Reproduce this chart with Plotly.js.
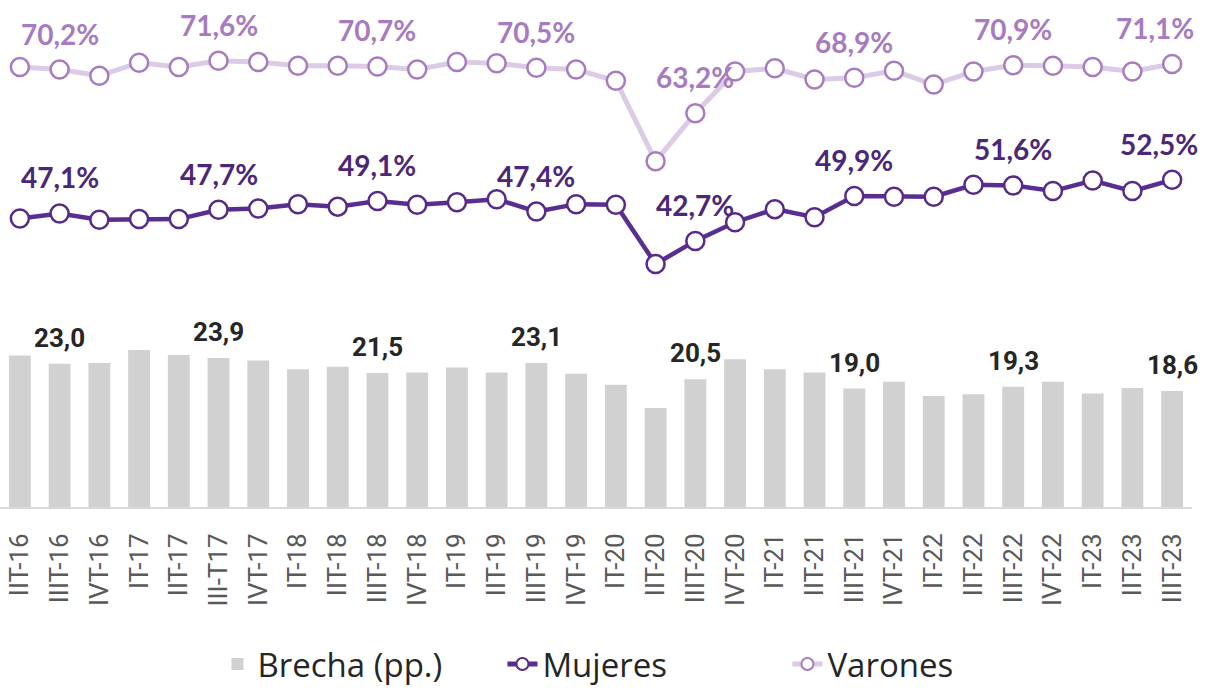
<!DOCTYPE html>
<html>
<head>
<meta charset="utf-8">
<script src="https://cdn.plot.ly/plotly-3.0.1.min.js"></script>
<style>
  html, body { margin: 0; padding: 0; background: #ffffff; }
  #chart { width: 1210px; height: 692px; }
</style>
</head>
<body>
<div id="chart"></div>
<script>
const categories = ["IIT-16","IIIT-16","IVT-16","IT-17","IIT-17","III-T17","IVT-17","IT-18","IIT-18","IIIT-18","IVT-18","IT-19","IIT-19","IIIT-19","IVT-19","IT-20","IIT-20","IIIT-20","IVT-20","IT-21","IIT-21","IIIT-21","IVT-21","IT-22","IIT-22","IIIT-22","IVT-22","IT-23","IIT-23","IIIT-23"];
const varones = [70.6,70.2,69.2,71.3,70.6,71.6,71.4,70.8,70.8,70.7,70.2,71.4,71.2,70.5,70.2,68.4,55.5,63.2,69.9,70.4,68.6,68.9,70.0,67.8,69.9,70.9,70.8,70.6,69.9,71.1];
const mujeres = [46.3,47.1,46.1,46.2,46.2,47.7,47.9,48.6,48.2,49.1,48.5,48.9,49.4,47.4,48.6,48.5,39.0,42.7,45.7,47.8,46.5,49.9,49.8,49.8,51.7,51.6,50.7,52.4,50.7,52.5];
const brecha = [24.3,23.0,23.1,25.2,24.4,23.9,23.5,22.1,22.5,21.5,21.6,22.4,21.6,23.1,21.4,19.6,15.9,20.5,23.7,22.1,21.6,19.0,20.1,17.8,18.1,19.3,20.1,18.2,19.1,18.6];
const labelIdx = [1,5,9,13,17,21,25,29];

const fmt = v => v.toFixed(1).replace('.', ',');

const annotations = [];
labelIdx.forEach(i => {
  const last = i === categories.length - 1;
  annotations.push({
    x: categories[i], y: varones[i], xref: 'x', yref: 'y',
    text: fmt(varones[i]) + '%', showarrow: false, yshift: 36, xshift: last ? -17 : 0,
    font: {family: 'Lato, "Open Sans", sans-serif', size: 28, color: '#a67bbf', weight: 'bold'}
  });
  annotations.push({
    x: categories[i], y: mujeres[i], xref: 'x', yref: 'y',
    text: fmt(mujeres[i]) + '%', showarrow: false, yshift: 36, xshift: last ? -13 : 0,
    font: {family: 'Lato, "Open Sans", sans-serif', size: 28, color: '#4b2778', weight: 'bold'}
  });
  annotations.push({
    x: categories[i], y: brecha[i], xref: 'x', yref: 'y',
    text: fmt(brecha[i]), showarrow: false, yshift: 26,
    font: {family: 'Roboto, sans-serif', size: 26, color: '#262626', weight: 'bold'}
  });
});

const traces = [
  {
    type: 'bar', name: 'Brecha (pp.)', x: categories, y: brecha,
    marker: {color: '#d0d1d0'}, hoverinfo: 'skip'
  },
  {
    type: 'scatter', mode: 'lines+markers', name: 'Mujeres', x: categories, y: mujeres,
    line: {color: '#5a2d91', width: 4.5},
    marker: {symbol: 'circle', size: 18, color: '#ffffff', line: {color: '#552a88', width: 2.5}},
    hoverinfo: 'skip'
  },
  {
    type: 'scatter', mode: 'lines+markers', name: 'Varones', x: categories, y: varones,
    line: {color: '#dccbe6', width: 5},
    marker: {symbol: 'circle', size: 18, color: '#ffffff', line: {color: '#a67bbf', width: 2.5}},
    hoverinfo: 'skip'
  }
];

const layout = {
  width: 1210, height: 692,
  margin: {l: 0, r: 18, t: 0, b: 185, autoexpand: false},
  paper_bgcolor: '#ffffff', plot_bgcolor: '#ffffff',
  bargap: 0.45,
  showlegend: true,
  legend: {
    orientation: 'h', xref: 'container', yref: 'container',
    x: 0.533, xanchor: 'center', y: -0.022, yanchor: 'bottom',
    font: {family: '"Open Sans", sans-serif', size: 33, color: '#262626'},
    itemsizing: 'constant', entrywidth: 240
  },
  xaxis: {
    type: 'category', range: [-0.5, 29.5], fixedrange: true, automargin: false,
    showline: true, linecolor: '#d9d9d9', linewidth: 2,
    showgrid: false, zeroline: false,
    tickangle: -90, ticks: 'outside', ticklen: 14, tickcolor: 'rgba(0,0,0,0)',
    tickfont: {family: 'Roboto, sans-serif', size: 26, color: '#595959'}
  },
  yaxis: {
    range: [0, 81.36], visible: false, fixedrange: true, showgrid: false, zeroline: false, automargin: false
  },
  annotations: annotations
};

Plotly.newPlot('chart', traces, layout, {displayModeBar: false, staticPlot: true});
</script>
</body>
</html>
